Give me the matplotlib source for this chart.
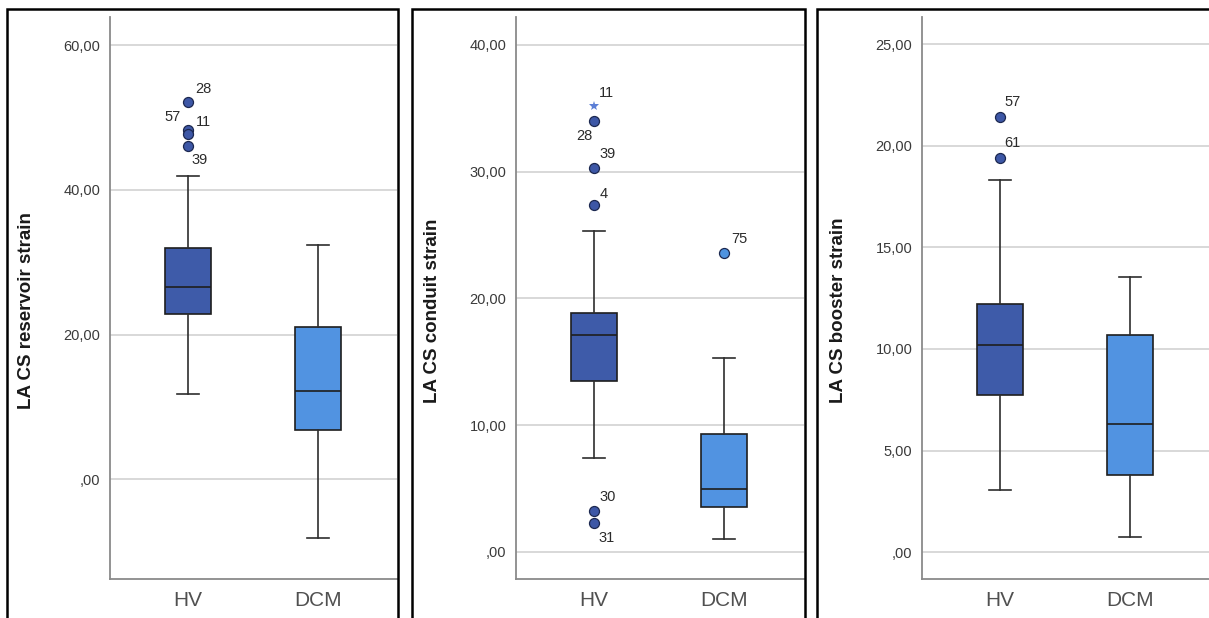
import matplotlib
matplotlib.use("Agg")
import matplotlib.pyplot as plt
from matplotlib.patches import Rectangle
from matplotlib.ticker import FuncFormatter, MultipleLocator

plt.rcParams["font.family"] = ["Liberation Sans", "DejaVu Sans"]

GROUPS = ["HV", "DCM"]

# five-number summaries: lower whisker, Q1, median, Q3, upper whisker
RESERVOIR_HV = [11.8, 22.8, 26.6, 32.0, 41.9]
RESERVOIR_DCM = [-8.2, 6.8, 12.2, 21.05, 32.35]
CONDUIT_HV = [7.4, 13.45, 17.15, 18.85, 25.3]
CONDUIT_DCM = [1.0, 3.55, 4.95, 9.3, 15.3]
BOOSTER_HV = [3.07, 7.73, 10.2, 12.23, 18.3]
BOOSTER_DCM = [0.77, 3.79, 6.32, 10.69, 13.52]

# outliers: (group index, value, case id)
RESERVOIR_OUT = [(0, 52.2, "28"), (0, 48.3, "57"), (0, 47.7, "11"), (0, 46.0, "39")]
CONDUIT_OUT = [(0, 34.0, "28"), (0, 30.3, "39"), (0, 27.4, "4"),
               (0, 3.25, "30"), (0, 2.3, "31"), (1, 23.6, "75")]
CONDUIT_EXTREME = [(0, 35.2, "11")]
BOOSTER_OUT = [(0, 21.4, "57"), (0, 19.4, "61")]

# label offsets in points relative to the marker
LABEL_OFFSETS = [
    {"28": (11, 9), "57": (-11, 9), "11": (11, 9), "39": (8, -10)},
    {"11": (9, 9), "28": (-7, -11), "39": (10, 10), "4": (7, 8),
     "75": (11, 10), "30": (10, 10), "31": (9, -11)},
    {"57": (9, 11), "61": (9, 11)},
]

PANELS = [
    ("LA CS reservoir strain", RESERVOIR_HV, RESERVOIR_DCM, RESERVOIR_OUT, [],
     (-13.8, 63.9), 20),
    ("LA CS conduit strain", CONDUIT_HV, CONDUIT_DCM, CONDUIT_OUT, CONDUIT_EXTREME,
     (-2.13, 42.2), 10),
    ("LA CS booster strain", BOOSTER_HV, BOOSTER_DCM, BOOSTER_OUT, [],
     (-1.32, 26.33), 5),
]

BOX_COLORS = ["#3e5ba9", "#5193e1"]
DOT_COLORS = ["#3d57a6", "#4f93e0"]
EDGE = "#1e1e1e"
W, H = 1209, 618

AX_LEFT = [110, 516, 922]
AX_RIGHT = [397, 804, 1209]
FRAMES = [(7, 398), (411.5, 804.5), (816.5, 1215)]


def comma_fmt(v, _pos):
    s = f"{v:.2f}".replace(".", ",")
    if s.startswith("0,"):
        s = s[1:]
    return s


def five(vals):
    lo, q1, med, q3, hi = vals
    return dict(whislo=lo, q1=q1, med=med, q3=q3, whishi=hi, fliers=[])


fig = plt.figure(figsize=(W / 100, H / 100), dpi=100)

for i, (ylabel, hv, dcm, outs, extremes, ylim, step) in enumerate(PANELS):
    left = AX_LEFT[i] / W
    width = (AX_RIGHT[i] - AX_LEFT[i]) / W
    ax = fig.add_axes([left, 1 - 579 / H, width, (579 - 17) / H])

    bp = ax.bxp([five(hv), five(dcm)], positions=[1, 2], widths=0.35,
                showfliers=False, patch_artist=True, capwidths=0.17,
                boxprops=dict(edgecolor=EDGE, linewidth=1.2),
                medianprops=dict(color=EDGE, linewidth=1.2),
                whiskerprops=dict(color="#2e2e2e", linewidth=1.2),
                capprops=dict(color="#2e2e2e", linewidth=1.2))
    for box, c in zip(bp["boxes"], BOX_COLORS):
        box.set_facecolor(c)
    for artist in bp["boxes"] + bp["medians"] + bp["whiskers"] + bp["caps"]:
        artist.set_zorder(3)

    for g, v, lab in outs:
        ax.plot(g + 1, v, "o", ms=7.2, mfc=DOT_COLORS[g], mec="#1c2850",
                mew=0.9, zorder=4)
    for g, v, lab in extremes:
        ax.plot(g + 1, v, "*", ms=7.5, color="#5c7fd6", mew=0, zorder=4)
    for g, v, lab in outs + extremes:
        ax.annotate(lab, (g + 1, v), xytext=LABEL_OFFSETS[i][lab],
                    textcoords="offset points", ha="center", va="center",
                    fontsize=10.5, color="#2b2b2b", zorder=5)

    ax.set_xlim(0.4, 2 + (AX_RIGHT[i] - AX_LEFT[i] - 208) / 130)
    ax.set_ylim(*ylim)
    ax.yaxis.set_major_locator(MultipleLocator(step))
    ax.yaxis.set_major_formatter(FuncFormatter(comma_fmt))
    ax.set_xticks([1, 2])
    ax.set_xticklabels(GROUPS)
    ax.grid(axis="y", color="#d6d6d6", linewidth=1.3, zorder=0)
    ax.set_axisbelow(True)

    for side in ("top", "right"):
        ax.spines[side].set_visible(False)
    for side in ("left", "bottom"):
        ax.spines[side].set_color("#8a8a8a")
        ax.spines[side].set_linewidth(1.3)

    ax.tick_params(axis="y", length=0, pad=7, labelsize=10.5, labelcolor="#3a3a3a")
    ax.tick_params(axis="x", length=0, pad=9, labelsize=15, labelcolor="#505050")
    ax.set_ylabel(ylabel, fontsize=13.5, fontweight="bold", color="#1a1a1a")
    ax.yaxis.set_label_coords(-0.262, 0.478)

    # black panel frame, open at the bottom edge of the image
    x0, x1 = FRAMES[i]
    fig.add_artist(Rectangle((x0 / W, -0.05), (x1 - x0) / W, 1.05 - 9.5 / H,
                             transform=fig.transFigure, fill=False,
                             edgecolor="black", linewidth=1.8))

fig.savefig("out.png", dpi=100)
